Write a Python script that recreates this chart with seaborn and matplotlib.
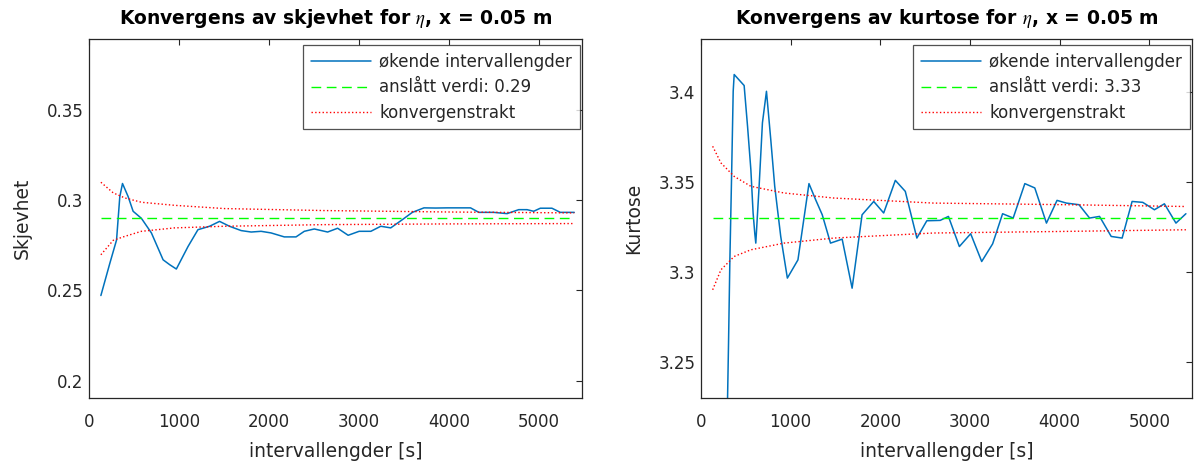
import matplotlib
matplotlib.use("Agg")
import matplotlib.pyplot as plt
import numpy as np
import pandas as pd
import seaborn as sns

# skjevhet (skewness), increasing interval lengths
skew_x = [132, 231, 306, 342, 372, 435, 490, 582, 693, 823, 896, 970, 1100, 1210, 1339,
          1450, 1560, 1690, 1801, 1911, 2022, 2169, 2299, 2391, 2502, 2650, 2761, 2878,
          3000, 3130, 3240, 3351, 3481, 3591, 3720, 3849, 3979, 4237, 4329, 4495, 4643,
          4772, 4865, 4938, 5012, 5141, 5234, 5389]
skew_y = [0.2472, 0.265, 0.278, 0.302, 0.3093, 0.302, 0.2939, 0.290, 0.2819, 0.267,
          0.2643, 0.2619, 0.2744, 0.2837, 0.2856, 0.2883, 0.2856, 0.2832, 0.2824, 0.2828,
          0.2819, 0.2797, 0.2797, 0.2828, 0.2841, 0.2824, 0.2845, 0.2806, 0.2828, 0.2828,
          0.2856, 0.2847, 0.2893, 0.2933, 0.2958, 0.2957, 0.2958, 0.2958, 0.2933, 0.2933,
          0.2926, 0.2948, 0.2948, 0.2939, 0.2956, 0.2956, 0.2933, 0.2933]
skew_est = 0.29
skew_band_x = [132, 269, 398, 582, 951, 1505, 2612, 4000, 5389]
skew_upper = [0.310, 0.3041, 0.3013, 0.2989, 0.2972, 0.2954, 0.2943, 0.2935, 0.2930]
skew_lower = [0.2698, 0.2778, 0.2800, 0.2828, 0.2847, 0.2856, 0.2865, 0.2869, 0.2871]

# kurtose
kurt_x = [250, 307, 322, 341, 359, 370, 481, 519, 556, 581, 600, 611, 648, 685, 730,
          778, 822, 889, 963, 1081, 1204, 1278, 1352, 1444, 1574, 1685, 1796, 1926, 2037,
          2167, 2278, 2407, 2518, 2667, 2759, 2881, 3007, 3130, 3252, 3363, 3481, 3611,
          3722, 3852, 3970, 4074, 4215, 4333, 4444, 4574, 4696, 4807, 4926, 5056, 5167,
          5296, 5407]
kurt_y = [3.10, 3.2606, 3.3068, 3.3531, 3.4003, 3.4096, 3.4035, 3.3809, 3.3568, 3.3328,
          3.3213, 3.3161, 3.3476, 3.3828, 3.4003, 3.3735, 3.3476, 3.3198, 3.2967, 3.3068,
          3.3491, 3.3402, 3.3318, 3.3161, 3.3183, 3.2911, 3.3318, 3.3392, 3.3328, 3.3509,
          3.3448, 3.3189, 3.3285, 3.3287, 3.3309, 3.3142, 3.3213, 3.3059, 3.3157, 3.3324,
          3.33, 3.3491, 3.3467, 3.3272, 3.3398, 3.3383, 3.3374, 3.33, 3.3309, 3.3198,
          3.3189, 3.3392, 3.3387, 3.3346, 3.3379, 3.3272, 3.3324]
kurt_est = 3.33
kurt_band_x = [130, 222, 370, 556, 926, 1481, 2593, 4074, 5407]
kurt_upper = [3.3698, 3.3606, 3.3531, 3.3476, 3.3439, 3.3411, 3.3383, 3.3374, 3.3364]
kurt_lower = [3.2902, 3.3013, 3.3087, 3.3124, 3.3161, 3.3189, 3.3217, 3.3226, 3.3235]

x_ticks = [0, 1000, 2000, 3000, 4000, 5000]
skew_ticks = [0.2, 0.25, 0.3, 0.35]
kurt_ticks = [3.25, 3.3, 3.35, 3.4]

sns.set_style("white")
plt.rcParams["font.family"] = ["DejaVu Sans"]
plt.rcParams["mathtext.fontset"] = "stix"

BLUE = "#0072BD"
GREEN = "#00FF00"
RED = "#FF0000"
GREY = "#262626"

fig = plt.figure(figsize=(11.95, 4.70), dpi=100)
ax1 = fig.add_axes([89 / 1195, 72 / 470, 493 / 1195, 359 / 470])
ax2 = fig.add_axes([701 / 1195, 72 / 470, 491 / 1195, 359 / 470])


def panel(ax, x, y, est, bx, bu, bl, ticks, ylim, ylabel, title):
    sns.lineplot(x=x, y=y, ax=ax, color=BLUE, lw=1.1, sort=False,
                 label="økende intervallengder")
    sns.lineplot(x=[bx[0], bx[-1]], y=[est, est], ax=ax, color=GREEN, lw=1.0,
                 label=f"anslått verdi: {est}").lines[-1].set_dashes((7, 4))
    sns.lineplot(x=bx, y=bu, ax=ax, color=RED, lw=1.0, label="konvergenstrakt").lines[-1].set_linestyle(":")
    sns.lineplot(x=bx, y=bl, ax=ax, color=RED, lw=1.0).lines[-1].set_linestyle(":")

    ax.set_xlim(10, 5475)
    ax.set_ylim(*ylim)
    ax.set_xticks(x_ticks)
    ax.set_xticklabels([str(t) for t in x_ticks])
    ax.set_yticks(ticks)
    ax.set_yticklabels([f"{t:g}" for t in ticks])
    ax.tick_params(direction="in", length=4, width=0.8, colors=GREY, labelsize=12,
                   top=True, right=True, labelcolor=GREY)
    ax.tick_params(axis="x", pad=11)
    ax.tick_params(axis="y", pad=4)
    for s in ax.spines.values():
        s.set_color(GREY)
        s.set_linewidth(0.9)
    ax.set_xlabel("intervallengder [s]", fontsize=13.5, color=GREY, labelpad=8)
    ax.set_ylabel(ylabel, fontsize=13.5, color=GREY, labelpad=11)
    ax.set_title(title, fontsize=13.5, fontweight="bold", color="black", pad=11)

    leg = ax.legend(loc="upper right", bbox_to_anchor=(0.995, 0.982), fontsize=12,
                    frameon=True, fancybox=False, borderaxespad=0.0, handlelength=3.6,
                    handletextpad=0.5, borderpad=0.45, labelspacing=0.45)
    leg.get_frame().set_edgecolor(GREY)
    leg.get_frame().set_linewidth(0.9)
    for t in leg.get_texts():
        t.set_color(GREY)


panel(ax1, skew_x, skew_y, skew_est, skew_band_x, skew_upper, skew_lower, skew_ticks,
      (0.1904, 0.3894), "Skjevhet", r"Konvergens av skjevhet for $\eta$, x = 0.05 m")
panel(ax2, kurt_x, kurt_y, kurt_est, kurt_band_x, kurt_upper, kurt_lower, kurt_ticks,
      (3.2302, 3.4293), "Kurtose", r"Konvergens av kurtose for $\eta$, x = 0.05 m")

fig.savefig("out.png", dpi=100)
